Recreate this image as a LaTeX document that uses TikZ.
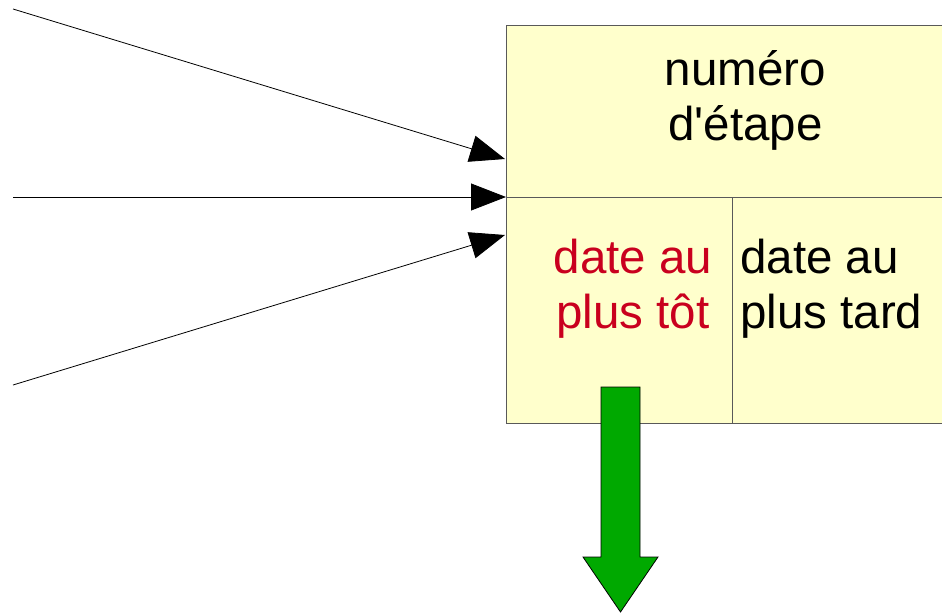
\documentclass[tikz,border=0pt]{standalone}
\usepackage{fontspec}
\setmainfont{Liberation Sans}
\usetikzlibrary{arrows.meta}

\definecolor{fondjaune}{RGB}{255,255,204}
\definecolor{rougedate}{RGB}{201,0,30}
\definecolor{vertfleche}{RGB}{0,169,0}

\begin{document}
\begin{tikzpicture}[x=1pt, y=-1pt,
    cell/.style={rectangle, draw=black!65, fill=fondjaune, anchor=north west, inner sep=0pt},
    label/.style={font=\fontsize{47.5}{55}\selectfont, inner sep=0pt, anchor=north},
    entree/.style={-{Triangle[length=35pt, width=27pt]}, line width=0.8pt}]
    \useasboundingbox (0, 0) rectangle (942, 613);

    % case de l'étape
    \node[cell, minimum width=480pt, minimum height=172pt] (num) at (506, 25) {};
    \node[cell, minimum width=226pt, minimum height=226pt] (tot) at (506, 197) {};
    \node[cell, minimum width=260pt, minimum height=226pt] (tard) at (732, 197) {};

    % textes
    \node[label, align=center] (tnum) at (745.5, 50) {numéro\\d\textquotesingle étape};
    \node[label, align=center, text=rougedate] (ttot) at (633, 239) {date au\\plus tôt};
    \node[label, align=left, anchor=north west] (ttard) at (740, 239) {date au\\plus tard};

    % flèches entrantes
    \coordinate (e1) at (13, 9);
    \coordinate (e2) at (13, 197);
    \coordinate (e3) at (13, 385);
    \coordinate (a1) at (505, 159);
    \coordinate (a3) at (505, 235);
    \draw[entree] (e1) -- (a1);
    \draw[entree] (e2) -- (tot.north west);
    \draw[entree] (e3) -- (a3);

    % grosse flèche verte
    \draw[fill=vertfleche, line width=0.8pt] (601, 387) -- (640, 387) -- (640, 557) -- (658, 557)
        -- (620.5, 612) -- (583, 557) -- (601, 557) -- cycle;

\end{tikzpicture}
\end{document}
